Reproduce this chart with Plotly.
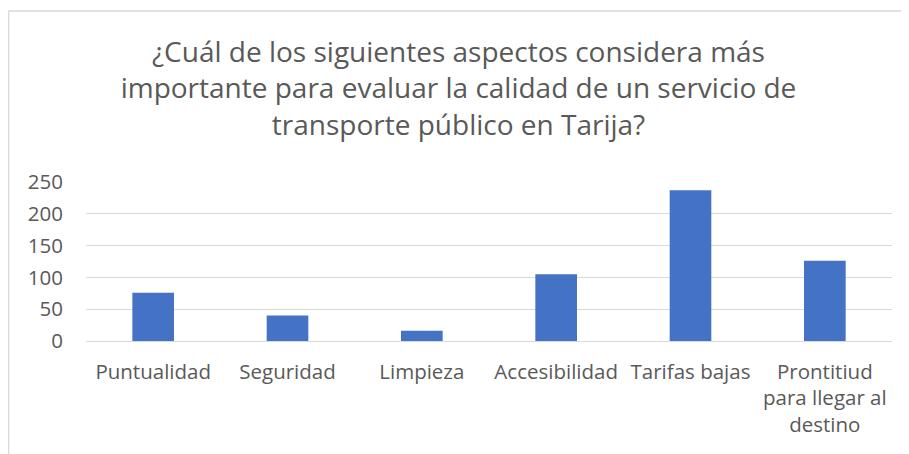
import plotly.graph_objects as go

# Datos
categorias = ["Puntualidad", "Seguridad", "Limpieza", "Accesibilidad",
              "Tarifas bajas", "Prontitiud<br>para llegar al<br>destino"]
respuestas = [76, 40, 16, 105, 237, 126]
y_ticks = [0, 50, 100, 150, 200, 250]

titulo = ("¿Cuál de los siguientes aspectos considera más<br>"
          "importante para evaluar la calidad de un servicio de<br>"
          "transporte público en Tarija?")

GRIS = "#595959"
# el div de plotly queda desplazado 8px por el margen del body
W, H = 901, 446

fig = go.Figure()
fig.add_trace(
    go.Bar(
        x=categorias,
        y=respuestas,
        marker_color="#4472C4",
        marker_line_width=0,
    )
)

fig.update_xaxes(
    showgrid=False,
    showline=False,
    ticks="",
    tickfont=dict(size=20.5, color=GRIS),
    ticklabelstandoff=16,
)
fig.update_yaxes(
    range=[0, 250],
    tickvals=y_ticks,
    showgrid=True,
    gridcolor="#d9d9d9",
    gridwidth=1,
    zeroline=True,
    zerolinecolor="#d9d9d9",
    zerolinewidth=1,
    tickfont=dict(size=20.5, color=GRIS),
    ticklabelstandoff=22,
)

# marco del area del grafico (solo borde superior e izquierdo visibles)
fig.add_shape(type="line", xref="paper", yref="paper",
              x0=-77.5/806, x1=1 + 17/806, y0=1 + 171/159, y1=1 + 171/159,
              line=dict(color="#d9d9d9", width=1.5))
fig.add_shape(type="line", xref="paper", yref="paper",
              x0=-77.5/806, x1=-77.5/806, y0=1 + 171/159, y1=-113/159,
              line=dict(color="#d9d9d9", width=1.5))

fig.update_layout(
    width=W, height=H,
    font_family="Open Sans",
    title=dict(text=titulo, x=0.5, xanchor="center", y=1 - 54/H, yanchor="top",
               font=dict(size=28, color=GRIS)),
    showlegend=False,
    bargap=0.69,
    plot_bgcolor="white",
    paper_bgcolor="white",
    margin=dict(l=78, r=17, t=174, b=113),
)

fig.write_html("out.html")
